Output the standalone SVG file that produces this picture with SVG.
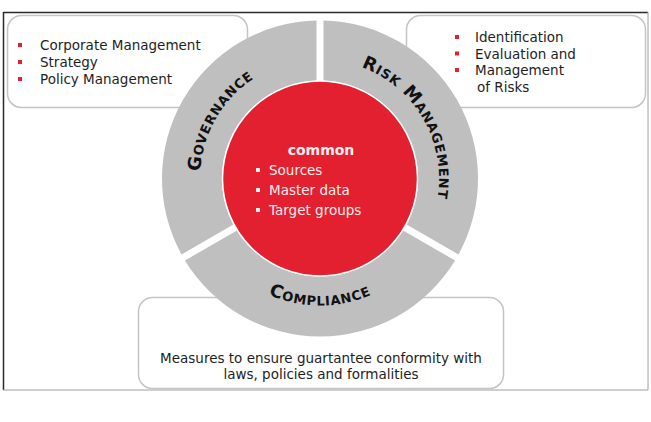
<svg xmlns="http://www.w3.org/2000/svg" width="651" height="422" viewBox="0 0 651 422">
<style>
.box{fill:#fff;stroke:#c4c4c4;stroke-width:1.5}
.seg{fill:#bfbfbf}
.txt{font-family:"DejaVu Sans",Verdana,sans-serif;font-size:13.5px;fill:#1e1e1e}
.ctr{font-family:"DejaVu Sans",Verdana,sans-serif;font-size:13.5px;fill:#fbeeee}
.lbl{font-family:"DejaVu Sans",Verdana,sans-serif;font-weight:bold;font-size:18px;font-variant:small-caps;fill:#111;letter-spacing:0.7px}
.bul{fill:#e2202f}
</style>
<defs>
<path id="pGov" d="M216.08,238.5 A120,120 0 0,1 320,58.5"/>
<path id="pRisk" d="M320,59.5 A119,119 0 0,1 423.06,238"/>
<path id="pComp" d="M210.01,242 A127,127 0 0,0 429.99,242"/>
</defs>
<rect width="651" height="422" fill="#fff"/>
<g id="frame">
<line x1="3.5" y1="12.5" x2="648" y2="12.5" stroke="#2a2a2a" stroke-width="1.5"/>
<line x1="3.5" y1="12" x2="3.5" y2="390" stroke="#2a2a2a" stroke-width="1.5"/>
<line x1="648" y1="12" x2="648" y2="390" stroke="#a0a0a0" stroke-width="1"/>
<line x1="3" y1="390" x2="648" y2="390" stroke="#a0a0a0" stroke-width="1.2"/>
</g>
<g id="box-governance">
<rect class="box" x="7.5" y="15.5" width="240" height="92" rx="14"/>
<rect class="bul" x="18" y="43" width="4" height="4"/>
<rect class="bul" x="18" y="60" width="4" height="4"/>
<rect class="bul" x="18" y="77" width="4" height="4"/>
<text class="txt" x="40" y="50">Corporate Management</text>
<text class="txt" x="40" y="67">Strategy</text>
<text class="txt" x="40" y="84">Policy Management</text>
</g>
<g id="box-risk">
<rect class="box" x="406.5" y="15.5" width="239" height="92" rx="14"/>
<rect class="bul" x="455" y="35" width="4" height="4"/>
<rect class="bul" x="455" y="51.5" width="4" height="4"/>
<rect class="bul" x="455" y="68" width="4" height="4"/>
<text class="txt" x="475" y="42">Identification</text>
<text class="txt" x="475" y="58.5">Evaluation and</text>
<text class="txt" x="475" y="75">Management</text>
<text class="txt" x="477" y="91.5">of Risks</text>
</g>
<g id="box-compliance">
<rect class="box" x="138.5" y="297.5" width="365" height="91" rx="14"/>
<text class="txt" x="321" y="363" text-anchor="middle">Measures to ensure guartantee conformity with</text>
<text class="txt" x="321" y="379" text-anchor="middle">laws, policies and formalities</text>
</g>
<g id="seg-risk">
<path class="seg" d="M323.5,20.54 A158,158 0 0,1 458.55,254.45 L406.57,224.43 A98,98 0 0,0 323.5,80.56 Z"/>
<text class="lbl"><textPath href="#pRisk" startOffset="50%" text-anchor="middle">Risk Management</textPath></text>
</g>
<g id="seg-compliance">
<path class="seg" d="M455.05,260.52 A158,158 0 0,1 184.95,260.52 L236.93,230.49 A98,98 0 0,0 403.07,230.49 Z"/>
<text class="lbl"><textPath href="#pComp" startOffset="50%" text-anchor="middle">Compliance</textPath></text>
</g>
<g id="seg-governance">
<path class="seg" d="M181.45,254.45 A158,158 0 0,1 316.5,20.54 L316.5,80.56 A98,98 0 0,0 233.43,224.43 Z"/>
<text class="lbl"><textPath href="#pGov" startOffset="50%" text-anchor="middle">Governance</textPath></text>
</g>
<g id="common">
<circle cx="320" cy="178.5" r="97.5" fill="#e2202f" stroke="#ffffff" stroke-width="1.5"/>
<text x="321" y="155" text-anchor="middle" style="font-family:'DejaVu Sans',Verdana,sans-serif;font-weight:bold;font-size:14px;fill:#fbeeee">common</text>
<rect x="256" y="168" width="4" height="4" fill="#fbeeee"/>
<rect x="256" y="188" width="4" height="4" fill="#fbeeee"/>
<rect x="256" y="208" width="4" height="4" fill="#fbeeee"/>
<text class="ctr" x="269" y="175">Sources</text>
<text class="ctr" x="269" y="195">Master data</text>
<text class="ctr" x="269" y="215">Target groups</text>
</g>
<g id="connectors"/>
</svg>
